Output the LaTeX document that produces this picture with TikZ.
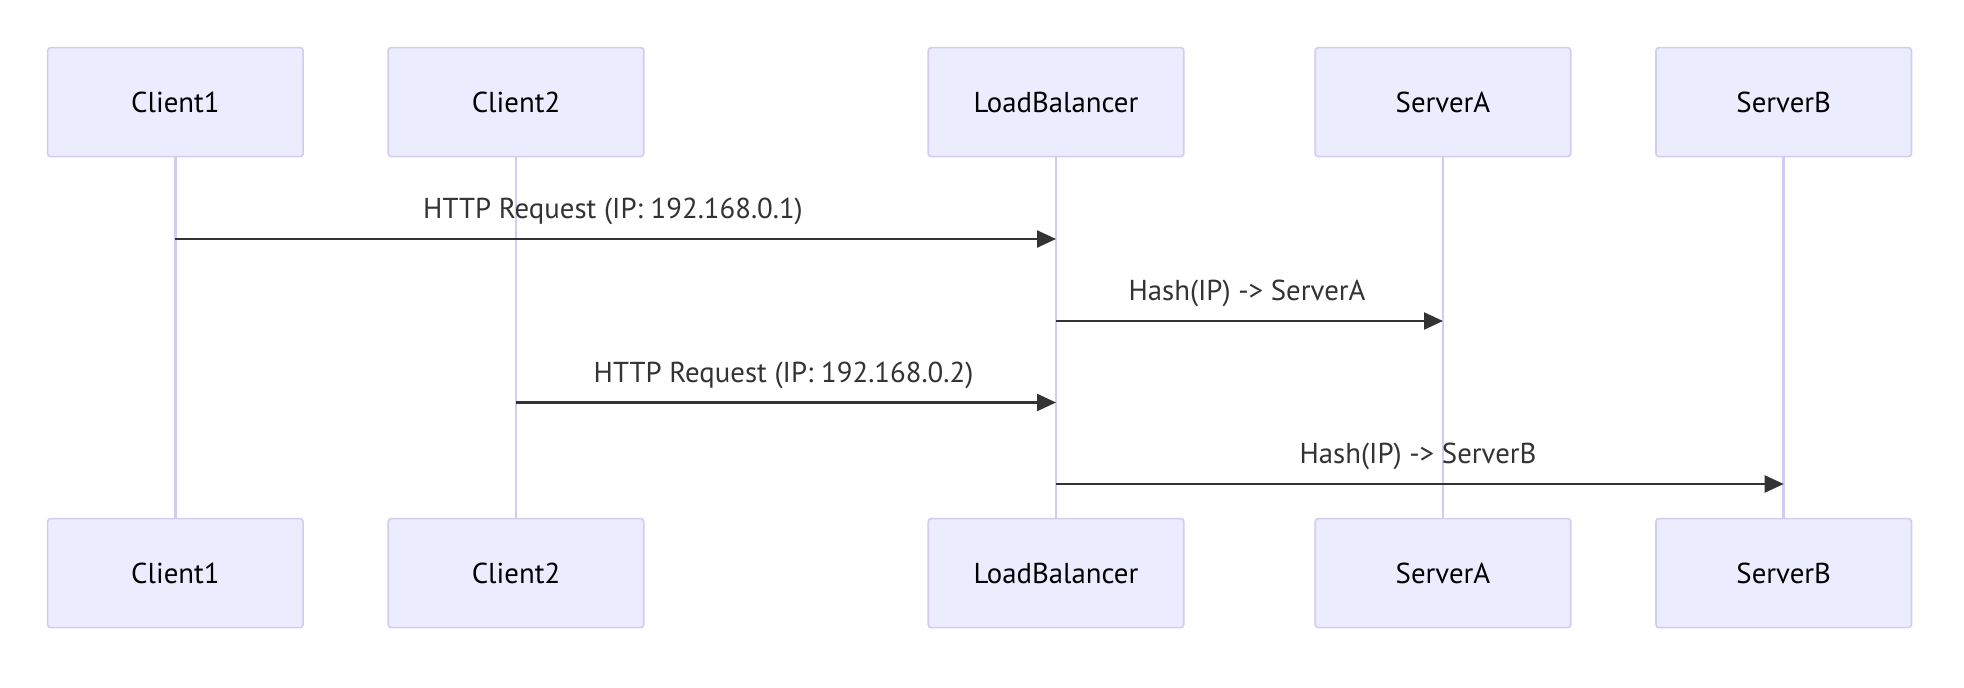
\documentclass[tikz,border=0pt]{standalone}
\usepackage{fontspec}
\setmainfont{PT Sans}
\usetikzlibrary{arrows.meta}
\definecolor{actorfill}{HTML}{ECECFF}
\definecolor{actorline}{HTML}{D3CBF2}
\definecolor{msgline}{HTML}{333333}
\tikzset{
  actor/.style={draw=actorline, line width=0.8pt, fill=actorfill, rounded corners=1.5pt,
    minimum width=127.75pt, minimum height=54.5pt, inner sep=0pt, font=\fontsize{14.4}{17}\selectfont},
  lifeline/.style={draw=actorline, line width=1.3pt},
  msg/.style={draw=msgline, line width=1.15pt, -{Triangle[length=9.5pt,width=8.5pt]}},
  msglabel/.style={text=msgline, font=\fontsize{14.4}{17}\selectfont, inner sep=0pt}
}
\newcommand{\msgat}[3]{\draw[msg] (#1 |- 0,#3) -- (#2 |- 0,#3)}

\begin{document}
\begin{tikzpicture}[x=0.5pt, y=-0.5pt]
    \useasboundingbox (0,0) rectangle (1964,688);

    \node[actor] (c1top) at (175.4,102.1) {Client1};
    \node[actor] (c2top) at (516,102.1) {Client2};
    \node[actor] (lbtop) at (1056,102.1) {LoadBalancer};
    \node[actor] (satop) at (1443,102.1) {ServerA};
    \node[actor] (sbtop) at (1783.7,102.1) {ServerB};

    \node[actor] (c1bot) at (175.4,573.1) {Client1};
    \node[actor] (c2bot) at (516,573.1) {Client2};
    \node[actor] (lbbot) at (1056,573.1) {LoadBalancer};
    \node[actor] (sabot) at (1443,573.1) {ServerA};
    \node[actor] (sbbot) at (1783.7,573.1) {ServerB};

    \draw[lifeline] (c1top) -- (c1bot);
    \draw[lifeline] (c2top) -- (c2bot);
    \draw[lifeline] (lbtop) -- (lbbot);
    \draw[lifeline] (satop) -- (sabot);
    \draw[lifeline] (sbtop) -- (sbbot);

    % messages
    \msgat{c1top}{lbtop}{239};
    \node[msglabel] (t1) at (613,211.5) {HTTP Request (IP: 192.168.0.1)};

    \msgat{lbtop}{satop}{321};
    \node[msglabel] (t2) at (1247,293.5) {Hash(IP) -> ServerA};

    \msgat{c2top}{lbtop}{402.5};
    \node[msglabel] (t3) at (783.5,375) {HTTP Request (IP: 192.168.0.2)};

    \msgat{lbtop}{sbtop}{484};
    \node[msglabel] (t4) at (1418,456.5) {Hash(IP) -> ServerB};
\end{tikzpicture}
\end{document}
